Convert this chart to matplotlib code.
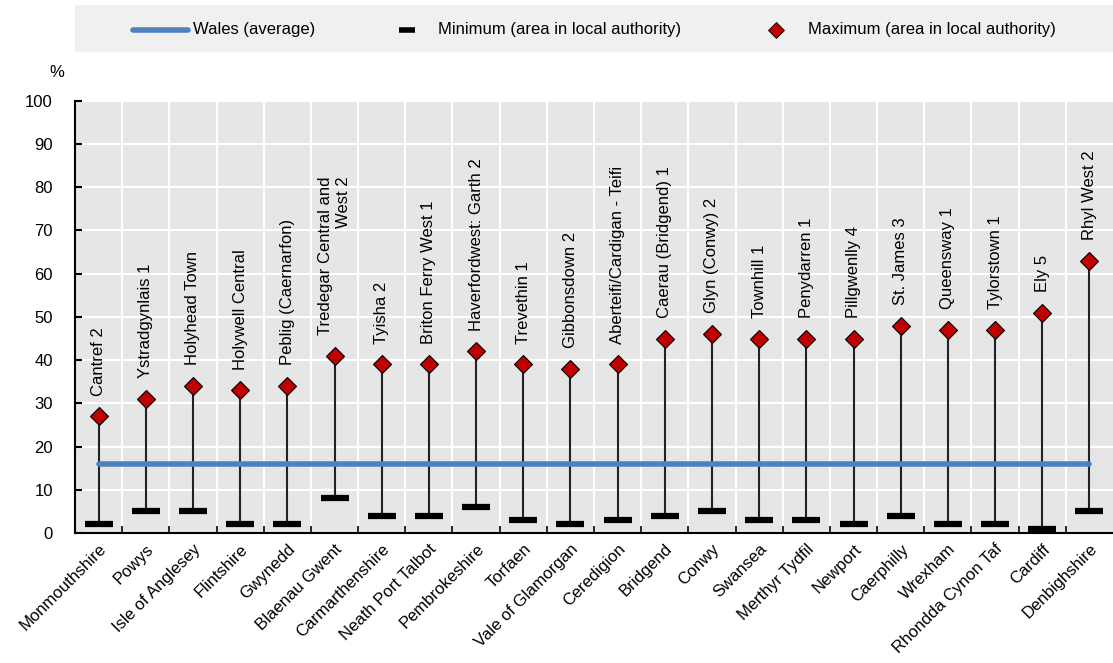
import numpy as np
import matplotlib
matplotlib.use("Agg")
from matplotlib import pyplot as plt
from matplotlib.lines import Line2D
from matplotlib.patches import Rectangle

plt.rcParams['font.family'] = ['Liberation Sans', 'DejaVu Sans']

# data
authorities = ["Monmouthshire", "Powys", "Isle of Anglesey", "Flintshire", "Gwynedd",
               "Blaenau Gwent", "Carmarthenshire", "Neath Port Talbot", "Pembrokeshire",
               "Torfaen", "Vale of Glamorgan", "Ceredigion", "Bridgend", "Conwy", "Swansea",
               "Merthyr Tydfil", "Newport", "Caerphilly", "Wrexham", "Rhondda Cynon Taf",
               "Cardiff", "Denbighshire"]
max_areas = ["Cantref 2", "Ystradgynlais 1", "Holyhead Town", "Holywell Central",
             "Peblig (Caernarfon)", "Tredegar Central and\nWest 2", "Tyisha 2",
             "Briton Ferry West 1", "Haverfordwest: Garth 2", "Trevethin 1", "Gibbonsdown 2",
             "Aberteifi/Cardigan - Teifi", "Caerau (Bridgend) 1", "Glyn (Conwy) 2",
             "Townhill 1", "Penydarren 1", "Pillgwenlly 4", "St. James 3", "Queensway 1",
             "Tylorstown 1", "Ely 5", "Rhyl West 2"]
min_vals = [2, 5, 5, 2, 2, 8, 4, 4, 6, 3, 2, 3, 4, 5, 3, 3, 2, 4, 2, 2, 1, 5]
max_vals = [27, 31, 34, 33, 34, 41, 39, 39, 42, 39, 38, 39, 45, 46, 45, 45, 45, 48, 47, 47, 51, 63]
wales_avg = 16

red = "#c00000"
blue = "#4f81bd"

fig = plt.figure(figsize=(11.13, 6.63), dpi=100)
ax = fig.add_axes([0.0674, 0.196, 0.9326, 0.652])
ax.set_facecolor("#e6e6e6")

x = np.arange(len(authorities))

ax.vlines(x, min_vals, max_vals, color="#222222", lw=1.5, zorder=3)
ax.plot(x, min_vals, ls="none", marker="_", ms=20, mew=4.5, color="black", zorder=4)
ax.plot([x[0], x[-1]], [wales_avg, wales_avg], color=blue, lw=4, solid_capstyle="round", zorder=5)
ax.plot(x, max_vals, ls="none", marker="D", ms=9, mfc=red, mec="black", mew=0.8, zorder=6)

for xi, v, name in zip(x, max_vals, max_areas):
    ax.annotate(name, (xi, v), xytext=(0, 15), textcoords="offset points",
                rotation=90, ha="center", va="bottom", fontsize=12,
                multialignment="right", zorder=7)

ax.set_xlim(-0.5, len(authorities) - 0.5)
ax.set_ylim(0, 100)
ax.set_yticks(np.arange(0, 101, 10))
ax.set_xticks(x)
ax.set_xticklabels(authorities, rotation=45, ha="right", rotation_mode="anchor", fontsize=12)
ax.set_xticks(x[:-1] + 0.5, minor=True)
ax.tick_params(axis="x", which="major", length=0, pad=6)
ax.tick_params(axis="x", which="minor", direction="in", length=5, width=1.2)
ax.tick_params(axis="y", direction="in", length=5, width=1.5, labelsize=12)
ax.tick_params(axis="y", pad=16)

ax.grid(True, axis="y", color="white", lw=1.5, zorder=0)
ax.grid(True, axis="x", which="minor", color="white", lw=1.5, zorder=0)
ax.set_axisbelow(True)

for s in ["top", "right"]:
    ax.spines[s].set_visible(False)
for s in ["left", "bottom"]:
    ax.spines[s].set_linewidth(1.5)
    ax.spines[s].set_color("black")

fig.text(0.051, 0.89, "%", fontsize=12, ha="center", va="center")

# legend drawn by hand in figure coords, to match the reference spacing
tf = fig.transFigure
fig.add_artist(Rectangle((0.0674, 0.9216), 0.9326, 0.0709, transform=tf,
                         facecolor="#f0f0f0", edgecolor="none"))
ly = 0.9548
fig.add_artist(Line2D([0.1195, 0.1689], [ly, ly], transform=tf, color=blue, lw=4,
                      solid_capstyle="round"))
fig.text(0.1734, ly, "Wales (average)", fontsize=12, va="center")
fig.add_artist(Line2D([0.3657], [ly], transform=tf, ls="none", marker="_", ms=12, mew=4,
                      color="black"))
fig.text(0.3935, ly, "Minimum (area in local authority)", fontsize=12, va="center")
fig.add_artist(Line2D([0.6972], [ly], transform=tf, ls="none", marker="D", ms=8, mfc=red,
                      mec="black", mew=0.6))
fig.text(0.7260, ly, "Maximum (area in local authority)", fontsize=12, va="center")

fig.savefig("out.png", dpi=100)
